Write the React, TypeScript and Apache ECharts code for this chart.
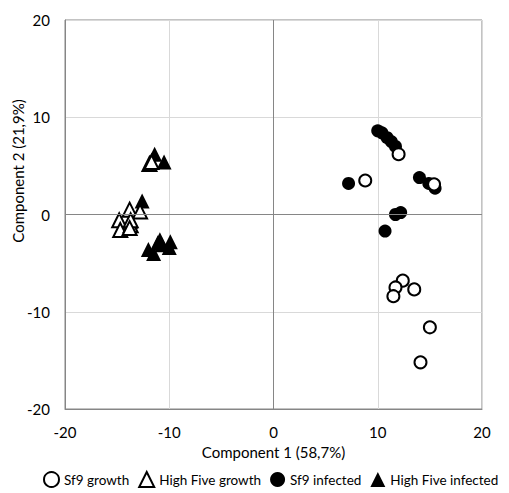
import React, { useEffect, useRef } from "react";
import * as echarts from "echarts";

const xTicks = [-20, -10, 0, 10, 20];
const yTicks = [-20, -10, 0, 10, 20];

const seriesNames = ["Sf9 growth", "High Five growth", "Sf9 infected", "High Five infected"];

const sf9GrowthX = [8.8, 12.0, 15.4, 12.4, 11.7, 11.5, 13.5, 15.0, 14.1];
const sf9GrowthY = [3.5, 6.2, 3.1, -6.8, -7.5, -8.4, -7.7, -11.6, -15.2];

const hfGrowthX = [-11.9, -11.7, -13.8, -12.8, -14.8, -14.7, -13.7, -13.7, -13.8];
const hfGrowthY = [5.2, 5.4, 0.5, 0.3, -0.6, -1.6, -1.1, -0.6, -1.4];

const sf9InfX = [7.2, 10.0, 10.4, 10.9, 11.3, 11.7, 14.0, 14.9, 15.5, 11.7, 12.2, 10.7];
const sf9InfY = [3.2, 8.6, 8.4, 7.9, 7.5, 7.0, 3.8, 3.2, 2.7, 0.0, 0.2, -1.7];

const hfInfX = [-11.4, -10.5, -12.6, -13.7, -10.9, -11.1, -9.9, -10.0, -12.0, -11.5, -10.7];
const hfInfY = [6.2, 5.4, 1.4, -0.7, -2.6, -2.9, -2.8, -3.4, -3.6, -4.0, -3.1];

const xTitle = "Component 1 (58,7%)";
const yTitle = "Component 2 (21,9%)";

const FONT = "Lato, Carlito, Calibri, sans-serif";
const TEXT = "#000";
const AXIS = "#868686";
const GRID = "#d9d9d9";

const zip = (xs: number[], ys: number[]) => xs.map((x, i) => [x, ys[i]]);

export default function App() {
  const ref = useRef<HTMLDivElement>(null);
  useEffect(() => {
    if (!ref.current) return;
    const chart = echarts.init(ref.current, null, { renderer: "svg" });
    const open = { color: "#fff", borderColor: "#000", borderWidth: 2, opacity: 1 };
    const filled = { color: "#000", borderColor: "#000", borderWidth: 0, opacity: 1 };
    chart.setOption({
      animation: false,
      backgroundColor: "#fff",
      textStyle: { fontFamily: FONT, color: TEXT },
      grid: { left: 65, right: 27, top: 20, bottom: 84, show: true, borderColor: AXIS, borderWidth: 1 },
      xAxis: {
        type: "value",
        min: xTicks[0],
        max: xTicks[xTicks.length - 1],
        interval: 10,
        axisLine: { show: true, onZero: false, lineStyle: { color: AXIS } },
        axisTick: { show: false },
        axisLabel: { fontFamily: FONT, fontSize: 15, color: TEXT, margin: 15 },
        splitLine: { show: true, lineStyle: { color: GRID, width: 1 } },
        name: xTitle,
        nameLocation: "middle",
        nameGap: 35,
        nameTextStyle: { fontFamily: FONT, fontSize: 15, color: TEXT },
      },
      yAxis: {
        type: "value",
        min: yTicks[0],
        max: yTicks[yTicks.length - 1],
        interval: 10,
        axisLine: { show: true, onZero: false, lineStyle: { color: AXIS } },
        axisTick: { show: false },
        axisLabel: { fontFamily: FONT, fontSize: 15, color: TEXT, margin: 15 },
        splitLine: { show: true, lineStyle: { color: GRID, width: 1 } },
      },
      graphic: [
        {
          type: "text",
          x: 18,
          y: 171,
          rotation: Math.PI / 2,
          style: {
            text: yTitle,
            font: `15px ${FONT}`,
            fill: TEXT,
            align: "center",
            verticalAlign: "middle",
          },
        },
      ],
      legend: {
        top: 471,
        left: 43,
        padding: 0,
        itemWidth: 15,
        itemHeight: 15,
        itemGap: 9,
        data: seriesNames,
        textStyle: { fontFamily: FONT, fontSize: 13.5, color: TEXT },
      },
      series: [
        {
          name: seriesNames[2],
          type: "scatter",
          symbol: "circle",
          symbolSize: 13,
          itemStyle: filled,
          data: zip(sf9InfX, sf9InfY),
          z: 3,
          markLine: {
            silent: true,
            symbol: "none",
            label: { show: false },
            lineStyle: { color: AXIS, width: 1, type: "solid" },
            data: [{ xAxis: 0 }, { yAxis: 0 }],
          },
        },
        {
          name: seriesNames[3],
          type: "scatter",
          symbol: "triangle",
          symbolSize: 15,
          itemStyle: filled,
          data: zip(hfInfX, hfInfY),
          z: 3,
        },
        {
          name: seriesNames[0],
          type: "scatter",
          symbol: "circle",
          symbolSize: 12,
          itemStyle: open,
          data: zip(sf9GrowthX, sf9GrowthY),
          z: 4,
        },
        {
          name: seriesNames[1],
          type: "scatter",
          symbol: "triangle",
          symbolSize: 14,
          itemStyle: open,
          data: zip(hfGrowthX, hfGrowthY),
          z: 4,
        },
      ],
    });
    return () => chart.dispose();
  }, []);
  return (
    <div
      ref={ref}
      style={{ position: "fixed", left: 0, top: 0, width: 509, height: 493, background: "#fff" }}
    />
  );
}
